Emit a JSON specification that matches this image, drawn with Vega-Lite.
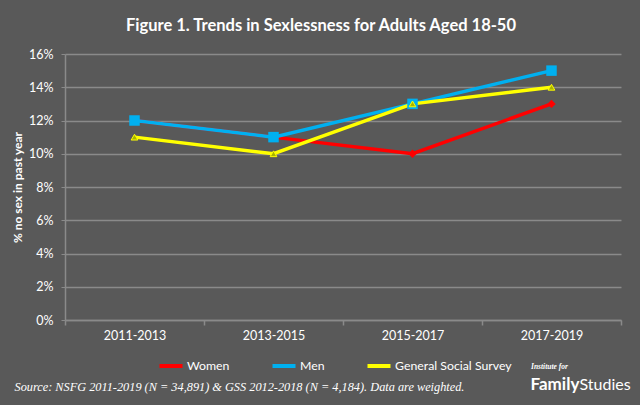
{
  "$schema": "https://vega.github.io/schema/vega-lite/v6.json",
  "width": 556,
  "height": 266,
  "autosize": {"type": "none"},
  "padding": {"left": 65, "top": 54, "right": 19, "bottom": 85},
  "background": "#595959",
  "config": {
    "view": {"stroke": null},
    "font": "Lato"
  },
  "title": {
    "text": "Figure 1. Trends in Sexlessness for Adults Aged 18-50",
    "font": "Lato",
    "fontSize": 16.5,
    "fontWeight": "bold",
    "color": "#ffffff",
    "anchor": "middle",
    "frame": "group",
    "dx": -22,
    "offset": 14
  },
  "data": {
    "values": [
      {"period": "2011-2013", "series": "Women", "value": 0.12},
      {"period": "2013-2015", "series": "Women", "value": 0.11},
      {"period": "2015-2017", "series": "Women", "value": 0.10},
      {"period": "2017-2019", "series": "Women", "value": 0.13},
      {"period": "2011-2013", "series": "Men", "value": 0.12},
      {"period": "2013-2015", "series": "Men", "value": 0.11},
      {"period": "2015-2017", "series": "Men", "value": 0.13},
      {"period": "2017-2019", "series": "Men", "value": 0.15},
      {"period": "2011-2013", "series": "General Social Survey", "value": 0.11},
      {"period": "2013-2015", "series": "General Social Survey", "value": 0.10},
      {"period": "2015-2017", "series": "General Social Survey", "value": 0.13},
      {"period": "2017-2019", "series": "General Social Survey", "value": 0.14}
    ]
  },
  "resolve": {"axis": {"x": "independent", "y": "independent"}},
  "layer": [
    {
      "mark": {"type": "line", "strokeWidth": 3.5},
      "encoding": {
        "x": {
          "field": "period", "type": "nominal", "sort": null,
          "scale": {"paddingInner": 0, "paddingOuter": 0},
          "axis": {
            "labelAngle": 0, "labelColor": "#ffffff", "labelFont": "Lato", "labelFontSize": 12.5,
            "labelPadding": 4, "tickColor": "#8a8a8a", "tickSize": 5, "domainColor": "#8a8a8a",
            "domainWidth": 1.5, "tickWidth": 1.5, "tickBand": "extent",
            "title": "Source: NSFG 2011-2019 (N = 34,891) & GSS 2012-2018 (N = 4,184). Data are weighted.",
            "titleFont": "Liberation Serif", "titleFontStyle": "italic", "titleFontWeight": "normal",
            "titleFontSize": 12.3, "titleColor": "#ffffff", "titleAlign": "left", "titleAnchor": "start",
            "titleBaseline": "middle", "titleX": -51, "titleY": 66
          }
        },
        "y": {
          "field": "value", "type": "quantitative",
          "scale": {"domain": [0, 0.16], "nice": false},
          "axis": {
            "values": [0, 0.02, 0.04, 0.06, 0.08, 0.1, 0.12, 0.14, 0.16],
            "format": ".0%", "labelColor": "#ffffff", "labelFont": "Lato", "labelFontSize": 12.5,
            "labelPadding": 8, "tickColor": "#8a8a8a", "tickSize": 4, "domainColor": "#8a8a8a",
            "domainWidth": 1.5, "gridColor": "#8a8a8a", "gridWidth": 1.5,
            "title": "% no sex in past year", "titleColor": "#ffffff", "titleFont": "Lato",
            "titleFontSize": 12, "titleFontWeight": "bold", "titleX": -48, "titleBaseline": "middle"
          }
        },
        "color": {
          "field": "series", "type": "nominal", "sort": null,
          "scale": {"domain": ["Women", "Men", "General Social Survey"], "range": ["#ff0000", "#00b0f0", "#ffff00"]},
          "legend": {
            "orient": "none", "legendX": 92, "legendY": 298, "direction": "horizontal",
            "gridAlign": "none",
            "symbolType": "stroke", "symbolSize": 530, "symbolStrokeWidth": 4,
            "labelColor": "#ffffff", "labelFont": "Lato", "labelFontSize": 12.3, "labelOffset": 2,
            "columnPadding": 34,
            "title": "Institute for", "titleOrient": "right", "titleColor": "#ffffff",
            "titleFont": "Liberation Serif", "titleFontStyle": "italic", "titleFontWeight": "bold",
            "titleFontSize": 7.5, "titlePadding": 19, "titleBaseline": "top"
          }
        }
      }
    },
    {
      "transform": [{"filter": "datum.series === 'Women'"}],
      "mark": {"type": "point", "shape": "diamond", "filled": true, "color": "#ff0000", "size": 70, "opacity": 1},
      "encoding": {
        "x": {"field": "period", "type": "nominal", "sort": null, "axis": null},
        "y": {"field": "value", "type": "quantitative", "axis": null}
      }
    },
    {
      "transform": [{"filter": "datum.series === 'Men'"}],
      "mark": {"type": "point", "shape": "square", "filled": true, "color": "#00b0f0", "size": 110, "opacity": 1},
      "encoding": {
        "x": {"field": "period", "type": "nominal", "sort": null, "axis": null},
        "y": {"field": "value", "type": "quantitative", "axis": null}
      }
    },
    {
      "transform": [{"filter": "datum.series === 'General Social Survey'"}],
      "mark": {"type": "point", "shape": "triangle-up", "fill": "#a8b400", "stroke": "#ffff00", "strokeWidth": 1, "size": 45, "opacity": 1},
      "encoding": {
        "x": {"field": "period", "type": "nominal", "sort": null, "axis": null},
        "y": {"field": "value", "type": "quantitative", "axis": null}
      }
    },
    {
      "mark": {"type": "point", "opacity": 0},
      "encoding": {
        "y": {
          "field": "value", "type": "quantitative",
          "axis": {
            "orient": "right", "labels": false, "ticks": false, "domain": false, "grid": false,
            "title": "Family", "titleAngle": 0, "titleColor": "#ffffff", "titleFont": "Lato",
            "titleFontSize": 17, "titleFontWeight": "bold", "titleAlign": "left",
            "titleBaseline": "alphabetic", "titleX": -91, "titleY": 335
          }
        }
      }
    },
    {
      "mark": {"type": "point", "opacity": 0},
      "encoding": {
        "x": {
          "field": "period", "type": "nominal", "sort": null,
          "axis": {
            "orient": "top", "labels": false, "ticks": false, "domain": false, "grid": false,
            "title": "Studies", "titleColor": "#ffffff", "titleFont": "Lato",
            "titleFontSize": 16, "titleFontWeight": "normal", "titleAlign": "left", "titleAnchor": "start",
            "titleBaseline": "alphabetic", "titleX": 514, "titleY": 335
          }
        }
      }
    }
  ]
}
